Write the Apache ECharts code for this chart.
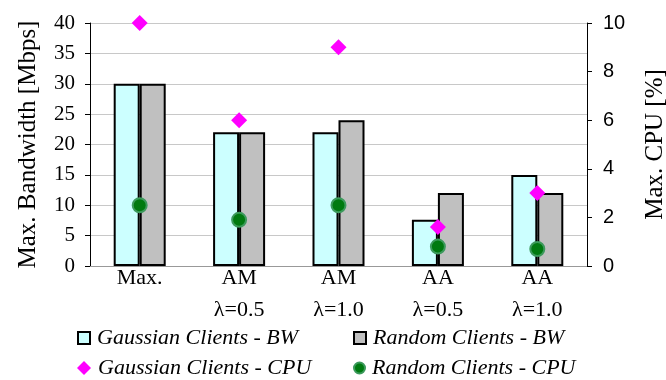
<!DOCTYPE html>
<html>
<head>
<meta charset="utf-8">
<script src="https://cdn.jsdelivr.net/npm/echarts@6/dist/echarts.min.js"></script>
<style>
  html, body { margin: 0; padding: 0; background: #fff; }
  #chart { width: 666px; height: 380px; }
</style>
</head>
<body>
<div id="chart"></div>
<script>
// Categories: scheme name and load factor
const categoryNames = ['Max.', 'AM', 'AM', 'AA', 'AA'];
const categoryLambdas = ['', 'λ=0.5', 'λ=1.0', 'λ=0.5', 'λ=1.0'];

// Maximum bandwidth [Mbps]
const gaussianBW = [30, 22, 22, 7.6, 15];
const randomBW = [30, 22, 24, 12, 12];

// Maximum CPU load [%]
const gaussianCPU = [10, 6, 9, 1.6, 3];
const randomCPU = [2.5, 1.9, 2.5, 0.8, 0.7];

// Axis tick settings
const bwTicks = { min: 0, max: 40, interval: 5 };
const cpuTicks = { min: 0, max: 10, interval: 2 };

const seriesNames = [
  'Gaussian Clients - BW',
  'Random Clients - BW',
  'Gaussian Clients - CPU',
  'Random Clients - CPU'
];

const categories = categoryNames.map((n, i) =>
  categoryLambdas[i] ? n + '\n' + categoryLambdas[i] : n);

const serif = '"Liberation Serif", "Times New Roman", serif';
const sans = '"Liberation Sans", Arial, sans-serif';

const legendText = {
  fontFamily: serif, fontStyle: 'italic', fontSize: 22, color: '#000'
};

function legendAt(name, left, top, icon, w, h) {
  return {
    data: [{ name: name, icon: icon }], left: left, top: top,
    itemWidth: w, itemHeight: h,
    itemGap: 0, padding: 0,
    textStyle: Object.assign({ padding: [0, 0, 0, 2] }, legendText),
    selectedMode: false
  };
}

const chart = echarts.init(document.getElementById('chart'));
chart.setOption({
  animation: false,
  backgroundColor: '#fff',
  grid: {
    left: 90, right: 79, top: 23, bottom: 114,
    containLabel: false, outerBoundsMode: 'none'
  },
  legend: [
    legendAt(seriesNames[0], 77, 327, 'rect', 12, 12),
    legendAt(seriesNames[1], 353, 327, 'rect', 12, 12),
    legendAt(seriesNames[2], 77, 357, 'diamond', 14, 14),
    legendAt(seriesNames[3], 353, 357, 'circle', 11, 11)
  ],
  xAxis: {
    type: 'category',
    data: categories,
    axisTick: { show: false },
    axisLine: { lineStyle: { color: '#999', width: 1 } },
    axisLabel: {
      margin: 0,
      interval: 0,
      fontFamily: serif,
      fontSize: 22,
      color: '#000',
      formatter: function (v) {
        const parts = v.split('\n');
        return parts.length > 1
          ? '{a|' + parts[0] + '}\n{b|' + parts[1] + '}'
          : '{a|' + parts[0] + '}';
      },
      rich: {
        a: { fontFamily: serif, fontSize: 22, lineHeight: 24, color: '#000' },
        b: { fontFamily: serif, fontSize: 22, lineHeight: 40, color: '#000' }
      }
    }
  },
  yAxis: [
    {
      type: 'value',
      min: bwTicks.min, max: bwTicks.max, interval: bwTicks.interval,
      name: 'Max. Bandwidth [Mbps]',
      nameLocation: 'middle',
      nameGap: 49,
      nameTextStyle: { fontFamily: serif, fontSize: 25, color: '#000' },
      axisLine: { show: true, lineStyle: { color: '#000', width: 1 } },
      axisTick: { show: true, length: 5, lineStyle: { color: '#000' } },
      axisLabel: { margin: 15, fontFamily: serif, fontSize: 21, color: '#000' },
      splitLine: { show: true, lineStyle: { color: '#c8c8c8', width: 1 } }
    },
    {
      type: 'value',
      position: 'right',
      min: cpuTicks.min, max: cpuTicks.max, interval: cpuTicks.interval,
      name: 'Max. CPU [%]',
      nameLocation: 'middle',
      nameGap: 56,
      nameRotate: 90,
      nameTextStyle: { fontFamily: serif, fontSize: 25, color: '#000' },
      axisLine: { show: true, lineStyle: { color: '#000', width: 1 } },
      axisTick: { show: true, length: 5, lineStyle: { color: '#000' } },
      axisLabel: { margin: 16, fontFamily: sans, fontSize: 20, color: '#000' },
      splitLine: { show: false }
    }
  ],
  series: [
    {
      name: seriesNames[0], type: 'bar', data: gaussianBW,
      barWidth: 26, barGap: '0%',
      itemStyle: { color: '#ccffff', borderColor: '#000', borderWidth: 2 }
    },
    {
      name: seriesNames[1], type: 'bar', data: randomBW,
      barWidth: 26, barGap: '0%',
      itemStyle: { color: '#c0c0c0', borderColor: '#000', borderWidth: 2 }
    },
    {
      name: seriesNames[2], type: 'scatter', yAxisIndex: 1, data: gaussianCPU,
      symbol: 'diamond', symbolSize: [16, 16], z: 5,
      itemStyle: { color: '#ff00ff', opacity: 1 }
    },
    {
      name: seriesNames[3], type: 'scatter', yAxisIndex: 1, data: randomCPU,
      symbol: 'circle', symbolSize: 14, z: 6,
      itemStyle: { color: '#007a10', borderColor: '#3c9a5c', borderWidth: 2, opacity: 1 }
    }
  ]
});
</script>
</body>
</html>
